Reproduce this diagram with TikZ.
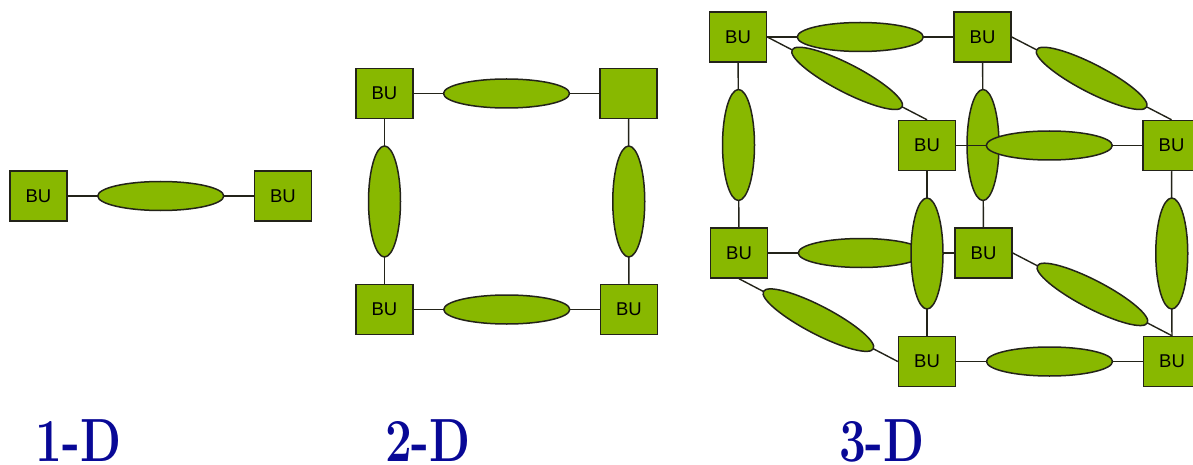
\documentclass[tikz,border=0pt]{standalone}
\usepackage{fontspec}
\newfontfamily\busans{Liberation Sans}
\usetikzlibrary{shapes.geometric}
\definecolor{bugreen}{RGB}{136,184,0}
\definecolor{buedge}{RGB}{35,35,25}
\definecolor{dimblue}{RGB}{8,8,150}
\tikzset{
  bunit/.style={draw=buedge, fill=bugreen, line width=1.5pt, minimum width=57pt,
    minimum height=50pt, inner sep=0pt, font=\busans\fontsize{18.5}{18.5}\selectfont},
  wire/.style={draw=buedge, line width=1.4pt},
  hlink/.style={ellipse, draw=buedge, fill=bugreen, line width=1.5pt,
    minimum width=126pt, minimum height=29pt, inner sep=0pt, sloped},
  vlink/.style={ellipse, draw=buedge, fill=bugreen, line width=1.5pt,
    minimum width=32pt, minimum height=111pt, inner sep=0pt},
  dimlabel/.style={anchor=base, text=dimblue, inner sep=0pt, text depth=0pt,
    xscale=0.78, font=\bfseries\fontsize{61}{61}\selectfont}
}
\begin{document}
\begin{tikzpicture}[x=1pt, y=-1pt]
\useasboundingbox (0,0) rectangle (1193,465);

% ---- 1-D: two units joined by one link ----
\node[bunit] (a1) at (38.5,196) {BU};
\node[bunit] (a2) at (283,196) {BU};
\draw[wire] (a1) -- node[hlink] {} (a2);

% ---- 2-D: a ring of four units ----
\node[bunit] (b1) at (384.5,93.5) {BU};
\node[bunit] (b2) at (628.5,93.5) {};
\node[bunit] (b3) at (384.5,309.5) {BU};
\node[bunit] (b4) at (629,309.5) {BU};
\draw[wire] (b1) -- node[hlink] {} (b2);
\draw[wire] (b3) -- node[hlink] {} (b4);
\draw[wire] (b1) -- node[vlink] {} (b3);
\draw[wire] (b2) -- node[vlink] {} (b4);

% ---- 3-D: a cube of eight units ----
\node[bunit] (c1) at (738,37) {BU};
\node[bunit] (c2) at (982.5,37) {BU};
\node[bunit] (c3) at (927,145.5) {BU};
\node[bunit] (c4) at (1171.5,145.5) {BU};
\node[bunit] (c5) at (739,253) {BU};
\node[bunit] (c6) at (983.5,253) {BU};
\node[bunit] (c7) at (927,361.5) {BU};
\node[bunit] (c8) at (1172,361.5) {BU};

% back face first
\draw[wire] (c1) -- node[hlink] {} (c2);
\draw[wire] (c1) -- node[vlink] {} (c5);
\draw[wire] (c2) -- node[vlink] {} (c6);
\draw[wire] (c5) -- node[hlink] {} (c6);
% depth edges
\draw[wire] (c1.east) -- node[hlink, minimum width=124pt, minimum height=28pt] {} (c3.north);
\draw[wire] (c2.east) -- node[hlink, minimum width=124pt, minimum height=28pt] {} (c4.north);
\draw[wire] (c5.south) -- node[hlink, minimum width=124pt, minimum height=28pt] {} (c7.west);
\draw[wire] (c6.east) -- node[hlink, minimum width=124pt, minimum height=28pt] {} (c8.north);
% front face on top
\draw[wire] (c3) -- node[hlink] {} (c4);
\draw[wire] (c3) -- node[vlink] {} (c7);
\draw[wire] (c4) -- node[vlink] {} (c8);
\draw[wire] (c7) -- node[hlink] {} (c8);

% ---- captions ----
\node[dimlabel] (l1) at (78.5,461) {1-D};
\node[dimlabel] (l2) at (428,461) {2-D};
\node[dimlabel] (l3) at (882,461) {3-D};
\end{tikzpicture}
\end{document}
